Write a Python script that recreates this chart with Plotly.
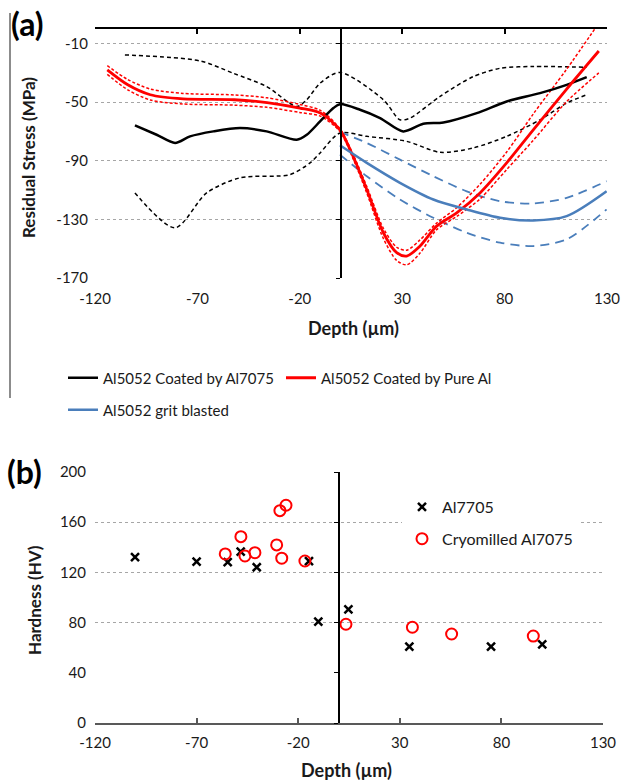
import plotly.graph_objects as go

# ---------------- (a) Residual stress ----------------
a7075_x = [-100.5, -89.9, -80.9, -73.6, -62.2, -49.2, -36.2, -21.5, -16.6, -10.1, -3.6, -0.4, 9.4, 19.2, 30.5, 40.3, 50.1, 66.4, 81.0, 97.3, 110.3, 120.1]
a7075_y = [-65.8, -72.2, -77.8, -73.3, -69.9, -67.6, -69.9, -75.6, -72.2, -63.1, -54.0, -51.3, -55.1, -60.8, -69.9, -64.7, -63.8, -57.4, -49.5, -43.8, -38.1, -32.9]
a7075_up_x = [-105.4, -68.7, -52.5, -36.2, -21.5, -16.6, -10.1, -0.4, 20.8, 28.9, 33.8, 48.5, 64.7, 77.8, 94.0, 120.1]
a7075_up_y = [-17.7, -21.8, -30.2, -39.3, -52.9, -48.3, -37.0, -29.7, -48.3, -62.0, -60.8, -46.0, -32.5, -26.8, -25.6, -26.1]
a7075_lo_x = [-100.5, -80.9, -65.5, -49.2, -24.8, -15.0, -10.1, -0.4, 12.7, 32.2, 48.5, 64.7, 81.0, 97.3, 110.3, 120.1]
a7075_lo_y = [-111.9, -135.7, -111.9, -101.6, -99.4, -91.4, -84.6, -71.0, -73.3, -76.7, -84.2, -81.2, -73.3, -62.0, -50.6, -44.9]

pure_x = [-114, -104, -93, -77, -52, -36, -20, -10, -0.4, 6, 12.7, 20.8, 27.3, 32.2, 38.7, 46.8, 56.6, 68, 81, 94, 110, 126]
pure_y = [-27.9, -38.1, -44.9, -47.7, -48.3, -50.2, -54.0, -57.4, -68.8, -86.9, -109.6, -139.1, -152.7, -155.0, -148.2, -134.6, -125.5, -111.9, -91.4, -68.8, -41.5, -15.0]
pure_up_y = [-25.0, -34.5, -41.0, -44.0, -45.0, -47.0, -51.5, -55.5, -68.0, -85.5, -107.5, -136.0, -149.0, -151.0, -144.0, -132.5, -122.0, -106.0, -84.0, -58.0, -28.0, 4.0]
pure_lo_y = [-31.0, -41.5, -48.5, -51.2, -52.0, -53.5, -57.0, -59.5, -70.0, -88.5, -112.0, -143.0, -158.0, -161.0, -153.0, -137.0, -128.0, -116.0, -96.0, -76.0, -50.0, -30.0]

grit_x = [-0.4, 12.7, 28.9, 45.2, 61.5, 77.8, 94.0, 110.3, 129.8]
grit_y = [-79.4, -91.4, -105.0, -116.4, -123.2, -128.9, -130.7, -127.8, -110.8]
grit_up_y = [-70.3, -77.8, -89.2, -100.5, -110.8, -117.6, -119.1, -115.3, -103.9]
grit_lo_y = [-85.8, -100.5, -116.4, -128.9, -139.1, -145.9, -148.2, -143.6, -123.2]

depth_ticks = [-120, -70, -20, 30, 80, 130]
depth_labels = ["-120", "-70", "-20", "30", "80", "130"]
stress_ticks = [-170, -130, -90, -50, -10]
stress_labels = ["-170", "-130", "-90", "-50", "-10"]

# ---------------- (b) Hardness ----------------
al7705_x = [-100.3, -70.0, -54.7, -48.3, -40.4, -14.7, -10.1, 4.7, 34.7, 74.9, 100.1]
al7705_y = [132.1, 128.6, 128.1, 136.5, 124.1, 128.9, 80.7, 90.6, 60.8, 60.8, 62.7]
cryo_x = [-55.9, -48.2, -46.2, -41.3, -30.6, -29.0, -26.0, -28.1, -16.7, 3.5, 36.2, 55.5, 95.7]
cryo_y = [134.7, 148.5, 133.1, 135.7, 141.9, 169.2, 173.5, 131.3, 129.1, 78.7, 76.3, 70.9, 69.3]
hard_ticks = [0, 40, 80, 120, 160, 200]
hard_grid = [80, 120, 160, 200]

FONT = "Lato"
BLACK = "#000000"
RED = "#FF0000"
BLUE = "#4A7EBB"
TXT = "#1a1a1a"

fig = go.Figure()

def line(x, y, color, width, dash="solid", name=None, show=False, legend="legend", xaxis="x"):
    fig.add_trace(go.Scatter(
        x=x, y=y, mode="lines", name=name, showlegend=show, legend=legend,
        line=dict(color=color, width=width, dash=dash, shape="spline", smoothing=0.8),
        xaxis=xaxis, yaxis="y", hoverinfo="skip"))

line(a7075_up_x, a7075_up_y, BLACK, 1.5, "4px,3px")
line(a7075_lo_x, a7075_lo_y, BLACK, 1.5, "4px,3px")
# these sit on the top (overlaying) x axis that carries the axis line at y = 0
line(grit_x, grit_up_y, BLUE, 1.8, "9px,6px", xaxis="x3")
line(grit_x, grit_lo_y, BLUE, 1.8, "9px,6px", xaxis="x3")
line(pure_x, pure_up_y, RED, 1.5, "3px,2px", xaxis="x3")
line(pure_x, pure_lo_y, RED, 1.5, "3px,2px", xaxis="x3")
line(a7075_x, a7075_y, BLACK, 2.5, name="Al5052 Coated by Al7075", show=True, xaxis="x3")
line(pure_x, pure_y, RED, 2.8, name="Al5052 Coated by Pure Al", show=True, xaxis="x3")
line(grit_x, grit_y, BLUE, 2.5, name="Al5052 grit blasted", show=True, legend="legend3", xaxis="x3")

fig.add_trace(go.Scatter(
    x=al7705_x, y=al7705_y, mode="markers", name="Al7705", legend="legend2", legendgroup="g1",
    marker=dict(symbol="x-thin", size=8, line=dict(color=BLACK, width=2.5), color=BLACK),
    xaxis="x2", yaxis="y2"))
fig.add_trace(go.Scatter(
    x=cryo_x, y=cryo_y, mode="markers", name="Cryomilled Al7075", legend="legend2", legendgroup="g2",
    marker=dict(symbol="circle-open", size=11, line=dict(color=RED, width=2), color=RED),
    xaxis="x2", yaxis="y2"))

# empty traces so that the helper axes (axis lines at 0, grid) get drawn
for xa_, ya_ in [("x", "y3"), ("x2", "y4"), ("x2", "y5")]:
    fig.add_trace(go.Scatter(x=[None], y=[None], mode="lines", showlegend=False,
                             hoverinfo="skip", xaxis=xa_, yaxis=ya_))

W, H = 623, 782
xa = [95 / W, 607 / W]
ya = [1 - 278 / H, 1 - 29 / H]
xb = [95 / W, 603 / W]
yb = [1 - 723 / H, 1 - 472 / H]
p0a = xa[0] + (xa[1] - xa[0]) * 120 / 250
p0b = xb[0] + (xb[1] - xb[0]) * 120 / 250

tickfont = dict(family=FONT, size=15, color=TXT)
legfont = dict(family=FONT, size=15, color=TXT)
GRID = "#a6a6a6"

def ann(text, x, y, size, angle=0, color=TXT, xanchor="center"):
    return dict(text=text, x=x / W, y=1 - y / H, xref="paper", yref="paper", xanchor=xanchor,
                yanchor="middle", textangle=angle, showarrow=False,
                font=dict(family=FONT, size=size, color=color))

fig.update_layout(
    width=W, height=H,
    margin=dict(l=0, r=0, t=0, b=0),
    paper_bgcolor="white", plot_bgcolor="white",
    font=dict(family=FONT, color=TXT),
    xaxis=dict(domain=xa, anchor="y", range=[-120, 130], tickvals=depth_ticks, ticktext=depth_labels,
               showgrid=False, zeroline=False, showline=False, ticks="", tickfont=tickfont,
               ticklabelstandoff=10, automargin=False),
    yaxis=dict(domain=ya, anchor="x", range=[-170, 0], tickvals=stress_ticks, ticktext=stress_labels,
               showgrid=True, gridcolor=GRID, griddash="dot", gridwidth=1, zeroline=False,
               showline=False, ticks="", tickfont=tickfont, automargin=False, ticklabelstandoff=6),
    xaxis3=dict(overlaying="x", side="top", anchor="y", range=[-120, 130], tickvals=depth_ticks,
                showticklabels=False, showgrid=False, zeroline=False, showline=True, linecolor=BLACK,
                linewidth=1.5, ticks="inside", ticklen=5, tickcolor=BLACK, tickwidth=1.5),
    yaxis3=dict(overlaying="y", anchor="free", position=p0a, side="left", range=[-170, 0],
                tickvals=stress_ticks, showticklabels=False, showgrid=False, zeroline=False,
                showline=True, linecolor=BLACK, linewidth=1.5, ticks="outside", ticklen=4,
                tickcolor=BLACK),
    xaxis2=dict(domain=xb, anchor="y2", range=[-120, 130], tickvals=depth_ticks, ticktext=depth_labels,
                showgrid=False, zeroline=False, showline=True, linecolor="#595959", linewidth=2,
                ticks="inside", ticklen=5, tickcolor="#595959", tickwidth=1.5, tickfont=tickfont,
                ticklabelstandoff=5, automargin=False),
    yaxis2=dict(domain=yb, anchor="x2", range=[0, 200], tickvals=hard_ticks,
                showgrid=False, zeroline=False, showline=False, ticks="", tickfont=tickfont,
                automargin=False, ticklabelstandoff=8),
    yaxis4=dict(overlaying="y2", anchor="free", position=p0b, side="left", range=[0, 200],
                tickvals=hard_ticks, showticklabels=False, showgrid=False, zeroline=False,
                showline=True, linecolor=BLACK, linewidth=2, ticks="outside", ticklen=4,
                tickcolor=BLACK),
    yaxis5=dict(overlaying="y2", anchor="x2", range=[0, 200], tickvals=hard_grid,
                showticklabels=False, showgrid=True, gridcolor=GRID, griddash="dot", gridwidth=1,
                zeroline=False, showline=False, ticks=""),
    legend=dict(orientation="h", x=63 / W, xanchor="left", y=1 - 378 / H, yanchor="middle",
                entrywidth=173, entrywidthmode="pixels", font=legfont,
                bgcolor="rgba(0,0,0,0)", traceorder="normal", itemwidth=30),
    legend3=dict(orientation="h", x=63 / W, xanchor="left", y=1 - 410 / H, yanchor="middle",
                 font=legfont, bgcolor="rgba(0,0,0,0)", itemwidth=30),
    legend2=dict(orientation="v", x=402 / W, xanchor="left", y=1 - 490 / H, yanchor="top",
                 font=dict(family=FONT, size=16, color=TXT), bgcolor="white",
                 traceorder="grouped", itemwidth=30, tracegroupgap=8),
    showlegend=True,
    annotations=[
        ann("<b>(a)</b>", 9, 24, 32, color=BLACK, xanchor="left"),
        ann("<b>(b)</b>", 5, 472, 32, color=BLACK, xanchor="left"),
        ann("<b>Residual Stress (MPa)</b>", 28, 158, 17, angle=-90),
        ann("<b>Depth (µm)</b>", 353, 328, 18),
        ann("<b>Hardness (HV)</b>", 34, 600, 17, angle=-90),
        ann("<b>Depth (µm)</b>", 346, 770, 18),
    ],
    shapes=[dict(type="line", xref="paper", yref="paper", x0=10 / W, x1=10 / W, y0=1 - 13 / H,
                 y1=1 - 398 / H, line=dict(color="#8c8c8c", width=2))],
)

fig.write_html("out.html", config={"displayModeBar": False},
               post_script="document.body.style.margin='0';document.body.style.overflow='hidden';")
